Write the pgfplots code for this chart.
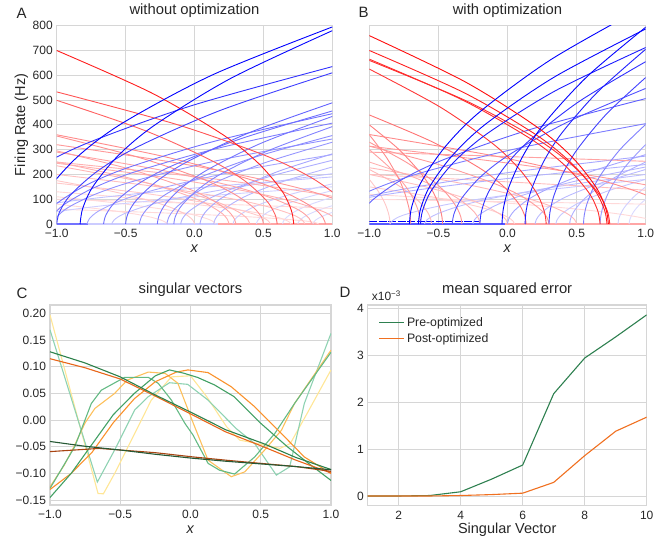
\documentclass[border=0pt]{standalone}
\usepackage{fontspec}
\setmainfont{Liberation Sans}
\usepackage{pgfplots}
\pgfplotsset{compat=1.18}

\definecolor{gridc}{RGB}{214,214,214}
\definecolor{txt}{RGB}{38,38,38}
\definecolor{g1}{RGB}{38,88,52}
\definecolor{g2}{RGB}{44,128,74}
\definecolor{g3}{RGB}{66,160,100}
\definecolor{g4}{RGB}{100,186,132}
\definecolor{g5}{RGB}{142,210,178}
\definecolor{o1}{RGB}{168,68,18}
\definecolor{o2}{RGB}{232,102,26}
\definecolor{o3}{RGB}{250,146,44}
\definecolor{o4}{RGB}{253,192,92}
\definecolor{o5}{RGB}{255,230,150}
\definecolor{pre}{RGB}{46,128,80}
\definecolor{post}{RGB}{240,112,32}

\pgfplotsset{
  base/.style={
    scale only axis, clip=true,
    axis line style={draw=gridc, line width=1.1pt},
    grid=major, major grid style={draw=gridc, line width=0.9pt},
    major tick length=0pt, tick style={draw=none},
    xticklabel style={font=\fontsize{12}{14}\selectfont, text=txt, anchor=base, yshift=-13.6pt, inner sep=0pt},
    yticklabel style={font=\fontsize{12}{14}\selectfont, text=txt, anchor=east, xshift=-3.8pt, inner sep=0pt},
    title style={font=\fontsize{14.8}{16}\selectfont, text=txt, at={(0.5,1)}, anchor=base, yshift=5.5pt, inner sep=0pt},
    xlabel style={font=\fontsize{14.5}{16}\selectfont, text=txt, at={(axis description cs:0.5,0)}, anchor=base, yshift=-28pt, inner sep=0pt},
    ylabel style={font=\fontsize{14.5}{16}\selectfont, text=txt, inner sep=0pt},
  },
  bl/.style={blue!#1!white, line width=0.9pt, smooth, mark=none},
  rd/.style={red!#1!white, line width=0.9pt, smooth, mark=none},
  sv/.style={#1, line width=1.1pt, mark=none},
}

\begin{document}
\begin{tikzpicture}
\useasboundingbox (0pt,0pt) rectangle (669pt,539pt);

% ---------------- A ----------------
\begin{axis}[base, at={(56.7pt,315pt)}, anchor=south west, width=275.6pt, height=198.3pt,
  xmin=-1, xmax=1, ymin=0, ymax=800,
  xtick={-1,-0.5,0,0.5,1}, xticklabels={−1.0,−0.5,0.0,0.5,1.0},
  ytick={0,100,...,800}, yticklabels={0,100,200,300,400,500,600,700,800},
  title={without optimization}, xlabel={\textit{x}},
  ylabel={Firing Rate (Hz)}, ylabel style={at={(axis description cs:-0.128,0.5)}, anchor=center},
]
\addplot[blue!55!white, line width=3pt] coordinates {(-1,0) (-0.77,0)};
\addplot[blue!20!white, line width=2pt] coordinates {(-0.77,0) (0.17,0)};
\addplot[red!35!white, line width=3pt] coordinates {(0.17,0) (1,0)};
\addplot[bl=15] coordinates {(0.75,0) (0.7525,6) (0.7625,14) (0.7875,26) (0.825,38) (0.9,56) (1,74)};
\addplot[bl=15] coordinates {(0.86,0) (0.8614,4) (0.867,9) (0.881,17) (0.902,24) (0.944,35) (1,47)};
\addplot[bl=15] coordinates {(0.64,0) (0.6436,9) (0.658,21) (0.694,38) (0.748,56) (0.856,82) (1,108)};
\addplot[rd=16] coordinates {(0.7,0) (0.683,10) (0.615,25) (0.445,46) (0.19,67) (-0.32,98) (-1,130)};
\addplot[rd=15] coordinates {(2.5,0) (2.465,8) (2.325,19) (1.975,35) (1.45,52) (0.4,76) (-1,100)};
\addplot[rd=15] coordinates {(0.15,0) (0.1385,9) (0.0925,21) (-0.0225,39) (-0.195,57) (-0.54,83) (-1,110)};
\addplot[rd=15] coordinates {(-0.2,0) (-0.208,6) (-0.24,15) (-0.32,28) (-0.44,41) (-0.68,60) (-1,80)};
\addplot[rd=15] coordinates {(0.9,0) (0.881,5) (0.805,12) (0.615,21) (0.33,31) (-0.24,45) (-1,60)};
\addplot[bl=17] coordinates {(0.45,0) (0.4555,11) (0.4775,26) (0.5325,48) (0.615,70) (0.78,102) (1,135)};
\addplot[bl=19] coordinates {(-1.3,0) (-1.277,12) (-1.185,29) (-0.955,53) (-0.61,77) (0.08,113) (1,150)};
\addplot[bl=20] coordinates {(0.28,0) (0.2872,13) (0.316,31) (0.388,57) (0.496,84) (0.712,122) (1,162)};
\addplot[rd=21] coordinates {(0.55,0) (0.5345,13) (0.4725,32) (0.3175,58) (0.085,85) (-0.38,125) (-1,165)};
\addplot[rd=22] coordinates {(0,0) (-0.01,14) (-0.05,34) (-0.15,62) (-0.3,90) (-0.6,132) (-1,175)};
\addplot[bl=24] coordinates {(-1.6,0) (-1.574,15) (-1.47,36) (-1.21,67) (-0.82,98) (-0.04,143) (1,190)};
\addplot[bl=25] coordinates {(-0.6,0) (-0.584,16) (-0.52,39) (-0.36,71) (-0.12,105) (0.36,153) (1,203)};
\addplot[rd=25] coordinates {(0.8,0) (0.782,16) (0.71,38) (0.53,70) (0.26,103) (-0.28,151) (-1,200)};
\addplot[bl=29] coordinates {(0.14,0) (0.1486,18) (0.183,44) (0.269,81) (0.398,119) (0.656,174) (1,230)};
\addplot[rd=29] coordinates {(0.4,0) (0.386,19) (0.33,45) (0.19,83) (-0.02,121) (-0.44,177) (-1,235)};
\addplot[rd=31] coordinates {(0.25,0) (0.2375,20) (0.1875,48) (0.0625,88) (-0.125,129) (-0.5,189) (-1,250)};
\addplot[rd=31] coordinates {(1.05,0) (1.0295,19) (0.9475,47) (0.7425,86) (0.435,126) (-0.18,185) (-1,245)};
\addplot[rd=31] coordinates {(1.6,0) (1.574,20) (1.47,48) (1.21,88) (0.82,129) (0.04,189) (-1,250)};
\addplot[bl=32] coordinates {(-0.1,0) (-0.089,20) (-0.045,49) (0.065,90) (0.23,133) (0.56,194) (1,257)};
\addplot[bl=35] coordinates {(0.04,0) (0.0496,22) (0.088,54) (0.184,100) (0.328,146) (0.616,214) (1,283)};
\addplot[bl=35] coordinates {(-0.78,0) (-0.762,22) (-0.691,54) (-0.513,99) (-0.246,144) (0.288,211) (1,280)};
\addplot[rd=36] coordinates {(0.85,0) (0.8315,23) (0.7575,56) (0.5725,102) (0.295,150) (-0.26,219) (-1,290)};
\addplot[rd=37] coordinates {(0.3,0) (0.287,23) (0.235,57) (0.105,104) (-0.09,152) (-0.48,223) (-1,295)};
\addplot[rd=40] coordinates {(1.3,0) (1.277,25) (1.185,61) (0.955,113) (0.61,165) (-0.08,242) (-1,320)};
\addplot[bl=41] coordinates {(-0.2,0) (-0.188,26) (-0.14,63) (-0.02,116) (0.16,170) (0.52,249) (1,330)};
\addplot[bl=43] coordinates {(-1.02,0) (-0.9998,27) (-0.919,66) (-0.717,121) (-0.414,177) (0.192,259) (1,343)};
\addplot[rd=44] coordinates {(0.5,0) (0.485,28) (0.425,68) (0.275,125) (0.05,183) (-0.4,268) (-1,355)};
\addplot[rd=45] coordinates {(0.95,0) (0.9305,28) (0.8525,69) (0.6575,127) (0.365,186) (-0.22,272) (-1,360)};
\addplot[bl=45] coordinates {(-0.4,0) (-0.386,28) (-0.33,69) (-0.19,126) (0.02,184) (0.44,270) (1,357)};
\addplot[bl=49] coordinates {(-0.15,0) (-0.1385,31) (-0.0925,75) (0.0225,138) (0.195,203) (0.54,297) (1,393)};
\addplot[bl=51] coordinates {(-1.05,0) (-1.0295,32) (-0.9475,78) (-0.7425,143) (-0.435,210) (0.18,307) (1,407)};
\addplot[bl=54] coordinates {(-0.27,0) (-0.257,34) (-0.207,83) (-0.079,153) (0.111,224) (0.492,328) (1,434)};
\addplot[bl=56] coordinates {(-1.1,0) (-1.079,35) (-0.995,85) (-0.785,157) (-0.47,230) (0.16,336) (1,445)};
\addplot[bl=57] coordinates {(-0.66,0) (-0.643,36) (-0.577,88) (-0.411,161) (-0.162,235) (0.336,344) (1,456)};
\addplot[bl=61] coordinates {(-0.5,0) (-0.485,39) (-0.425,94) (-0.275,172) (-0.05,252) (0.4,369) (1,489)};
\addplot[rd=62] coordinates {(0.6,0) (0.584,39) (0.52,96) (0.36,176) (0.12,257) (-0.36,377) (-1,499)};
\addplot[rd=67] coordinates {(1.17,0) (1.1483,42) (1.0615,102) (0.8445,188) (0.519,275) (-0.132,402) (-1,533)};
\addplot[bl=76] coordinates {(-1,0) (-0.98,48) (-0.9,117) (-0.7,215) (-0.4,315) (0.2,461) (1,610)};
\addplot[bl=80] coordinates {(-1.53,0) (-1.505,50) (-1.404,122) (-1.151,224) (-0.771,328) (-0.012,479) (1,635)};
\addplot[rd=88] coordinates {(0.72,0) (0.7028,55) (0.634,134) (0.462,246) (0.204,361) (-0.312,529) (-1,700)};
\addplot[bl=98] coordinates {(-0.83,0) (-0.8117,62) (-0.7385,150) (-0.5555,275) (-0.281,402) (0.268,589) (1,780)};
\addplot[bl=100] coordinates {(-1.15,0) (-1.1285,63) (-1.0425,154) (-0.8275,282) (-0.505,413) (0.14,604) (1,795)};
\end{axis}

% ---------------- B ----------------
\begin{axis}[base, at={(369.3pt,315pt)}, anchor=south west, width=276.4pt, height=198.3pt,
  xmin=-1, xmax=1, ymin=0, ymax=800,
  xtick={-1,-0.5,0,0.5,1}, xticklabels={−1.0,−0.5,0.0,0.5,1.0},
  ytick={0,100,...,800}, yticklabels={},
  title={with optimization}, xlabel={\textit{x}},
]
\addplot[blue!65!white, line width=3pt] coordinates {(-1,0) (-0.02,0)};
\addplot[red!35!white, line width=3pt] coordinates {(-0.02,0) (1,0)};
\addplot[blue, line width=1pt, dash pattern=on 8pt off 1.5pt] coordinates {(-1,12) (-0.2,12)};
\addplot[bl=15] coordinates {(0.88,0) (0.8812,8) (0.886,19) (0.898,35) (0.916,52) (0.952,76) (1,100)};
\addplot[rd=15] coordinates {(1.1,0) (1.079,9) (0.995,23) (0.785,42) (0.47,62) (-0.16,91) (-1,120)};
\addplot[rd=15] coordinates {(-1,100) (0,90) (1,80)};
\addplot[bl=19] coordinates {(0.8,0) (0.802,12) (0.81,29) (0.83,53) (0.86,77) (0.92,113) (1,150)};
\addplot[rd=19] coordinates {(0.05,0) (0.0395,12) (-0.0025,29) (-0.1075,53) (-0.265,77) (-0.58,113) (-1,150)};
\addplot[bl=22] coordinates {(-0.85,0) (-0.8315,14) (-0.7575,35) (-0.5725,63) (-0.295,93) (0.26,136) (1,180)};
\addplot[bl=22] coordinates {(0.35,0) (0.3565,14) (0.3825,35) (0.4475,63) (0.545,93) (0.74,136) (1,180)};
\addplot[rd=22] coordinates {(-0.85,0) (-0.8515,14) (-0.8575,35) (-0.8725,63) (-0.895,93) (-0.94,136) (-1,180)};
\addplot[bl=25] coordinates {(-0.6,0) (-0.584,16) (-0.52,38) (-0.36,70) (-0.12,103) (0.36,151) (1,200)};
\addplot[rd=25] coordinates {(3,0) (2.96,16) (2.8,38) (2.4,70) (1.8,103) (0.6,151) (-1,200)};
\addplot[rd=25] coordinates {(0,0) (-0.01,16) (-0.05,38) (-0.15,70) (-0.3,103) (-0.6,151) (-1,200)};
\addplot[bl=27] coordinates {(0.2,0) (0.208,17) (0.24,42) (0.32,77) (0.44,114) (0.68,166) (1,220)};
\addplot[rd=27] coordinates {(-0.55,0) (-0.5545,17) (-0.5725,42) (-0.6175,77) (-0.685,114) (-0.82,166) (-1,220)};
\addplot[rd=28] coordinates {(0.5,0) (0.485,18) (0.425,44) (0.275,80) (0.05,117) (-0.4,171) (-1,227)};
\addplot[bl=29] coordinates {(-0.25,0) (-0.2375,18) (-0.1875,44) (-0.0625,81) (0.125,119) (0.5,174) (1,230)};
\addplot[bl=30] coordinates {(-1.6,0) (-1.574,19) (-1.47,46) (-1.21,84) (-0.82,124) (-0.04,181) (1,240)};
\addplot[bl=31] coordinates {(0.45,0) (0.4555,20) (0.4775,48) (0.5325,88) (0.615,129) (0.78,189) (1,250)};
\addplot[rd=31] coordinates {(-0.2,0) (-0.208,20) (-0.24,48) (-0.32,88) (-0.44,129) (-0.68,189) (-1,250)};
\addplot[bl=34] coordinates {(-1.5,0) (-1.475,22) (-1.375,53) (-1.125,96) (-0.75,141) (0,207) (1,274)};
\addplot[bl=35] coordinates {(0,0) (0.01,22) (0.05,54) (0.15,99) (0.3,144) (0.6,211) (1,280)};
\addplot[rd=36] coordinates {(-1,290) (0,272) (1,253)};
\addplot[rd=37] coordinates {(-0.63,0) (-0.6337,24) (-0.6485,58) (-0.6855,106) (-0.741,155) (-0.852,227) (-1,300)};
\addplot[rd=39] coordinates {(0.3,0) (0.287,25) (0.235,60) (0.105,111) (-0.09,162) (-0.48,237) (-1,314)};
\addplot[rd=39] coordinates {(1.8,0) (1.772,25) (1.66,60) (1.38,111) (0.96,162) (0.12,237) (-1,314)};
\addplot[bl=40] coordinates {(0.67,0) (0.6733,25) (0.6865,62) (0.7195,113) (0.769,166) (0.868,242) (1,321)};
\addplot[rd=41] coordinates {(-0.33,0) (-0.3367,26) (-0.3635,63) (-0.4305,116) (-0.531,170) (-0.732,249) (-1,330)};
\addplot[rd=45] coordinates {(-0.7,0) (-0.703,28) (-0.715,69) (-0.745,127) (-0.79,186) (-0.88,272) (-1,360)};
\addplot[rd=45] coordinates {(1.3,0) (1.277,29) (1.185,69) (0.955,127) (0.61,186) (-0.08,273) (-1,361)};
\addplot[bl=50] coordinates {(0.55,0) (0.5545,32) (0.5725,77) (0.6175,142) (0.685,207) (0.82,304) (1,402)};
\addplot[rd=50] coordinates {(-0.47,0) (-0.4753,32) (-0.4965,77) (-0.5495,141) (-0.629,206) (-0.788,302) (-1,400)};
\addplot[bl=51] coordinates {(-1.3,0) (-1.277,32) (-1.185,78) (-0.955,143) (-0.61,209) (0.08,306) (1,405)};
\addplot[rd=55] coordinates {(0.135,0) (0.1237,35) (0.0783,84) (-0.0353,155) (-0.2055,227) (-0.546,332) (-1,440)};
\addplot[bl=63] coordinates {(-1.08,0) (-1.0592,40) (-0.976,97) (-0.768,178) (-0.456,261) (0.168,382) (1,506)};
\addplot[bl=68] coordinates {(-0.4,0) (-0.386,43) (-0.33,105) (-0.19,193) (0.02,282) (0.44,413) (1,547)};
\addplot[bl=74] coordinates {(0.3,0) (0.307,47) (0.335,113) (0.405,208) (0.51,305) (0.72,446) (1,591)};
\addplot[rd=78] coordinates {(0.28,0) (0.2672,49) (0.216,120) (0.088,220) (-0.104,323) (-0.488,472) (-1,625)};
\addplot[bl=82] coordinates {(-0.2,0) (-0.188,52) (-0.14,126) (-0.02,231) (0.16,338) (0.52,495) (1,655)};
\addplot[rd=82] coordinates {(0.74,0) (0.7226,52) (0.653,127) (0.479,232) (0.218,341) (-0.304,498) (-1,660)};
\addplot[rd=83] coordinates {(0.67,0) (0.6533,53) (0.5865,128) (0.4195,234) (0.169,343) (-0.332,502) (-1,665)};
\addplot[bl=88] coordinates {(0.127,0) (0.1357,56) (0.1707,135) (0.258,248) (0.389,364) (0.651,532) (1,705)};
\addplot[rd=88] coordinates {(0.72,0) (0.7028,55) (0.634,134) (0.462,246) (0.204,361) (-0.312,529) (-1,700)};
\addplot[bl=89] coordinates {(-0.63,0) (-0.6137,56) (-0.5485,137) (-0.3855,251) (-0.141,367) (0.348,538) (1,712)};
\addplot[rd=95] coordinates {(0.73,0) (0.7127,60) (0.6435,146) (0.4705,268) (0.211,392) (-0.308,574) (-1,760)};
\addplot[bl=98] coordinates {(-0.645,0) (-0.6286,62) (-0.5628,151) (-0.3983,277) (-0.1515,406) (0.342,594) (1,787)};
\addplot[bl=99] coordinates {(-0.04,0) (-0.0296,63) (0.012,152) (0.116,279) (0.272,410) (0.584,599) (1,794)};
\addplot[bl=100] coordinates {(-0.71,0) (-0.6929,70) (-0.6245,169) (-0.4535,310) (-0.197,454) (0.316,664) (1,880)};
\end{axis}

% ---------------- C ----------------
\begin{axis}[base, at={(50pt,34pt)}, anchor=south west, width=281pt, height=200pt,
  xmin=-1, xmax=1, ymin=-0.159, ymax=0.2156,
  xtick={-1,-0.5,0,0.5,1}, xticklabels={−1.0,−0.5,0.0,0.5,1.0},
  ytick={-0.15,-0.1,-0.05,0,0.05,0.1,0.15,0.2},
  yticklabels={−0.15,−0.10,−0.05,0.00,0.05,0.10,0.15,0.20},
  title={singular vectors}, xlabel={\textit{x}},
]
\addplot[sv=o5] coordinates {(-1,0.197) (-0.658,-0.1375) (-0.62,-0.138) (-0.54,-0.1) (-0.397,-0.025) (-0.279,0.0375) (-0.136,0.081) (0.0,0.083) (0.115,0.044) (0.257,-0.0125) (0.35,-0.0375) (0.54,-0.047) (0.637,-0.053) (0.71,-0.044) (0.83,0.0125) (1,0.094)};
\addplot[sv=g5] coordinates {(-1,0.169) (-0.663,-0.116) (-0.54,-0.056) (-0.397,0.019) (-0.30,0.044) (-0.15,0.07) (-0.02,0.067) (0.125,0.0375) (0.219,0.0125) (0.326,-0.016) (0.457,-0.044) (0.611,-0.103) (0.706,-0.0875) (0.81,0.031) (1,0.1625)};
\addplot[sv=o4] coordinates {(-1,-0.125) (-0.9,-0.085) (-0.83,-0.05) (-0.75,-0.005) (-0.68,0.022) (-0.54,0.05) (-0.45,0.075) (-0.3,0.09) (-0.18,0.0875) (-0.09,0.069) (0.02,-0.006) (0.125,-0.075) (0.29,-0.106) (0.386,-0.097) (0.528,-0.056) (0.647,-0.019) (0.74,0.031) (1,0.131)};
\addplot[sv=g4] coordinates {(-1,-0.128) (-0.824,-0.05) (-0.706,0.031) (-0.635,0.056) (-0.469,0.08) (-0.30,0.08) (-0.23,0.069) (-0.136,0.0375) (-0.04,-0.006) (0.018,-0.028) (0.125,-0.081) (0.208,-0.094) (0.314,-0.101) (0.457,-0.069) (0.6,-0.025) (0.74,0.031) (1,0.127)};
\addplot[sv=o3] coordinates {(-1,-0.13) (-0.85,-0.1) (-0.7,-0.06) (-0.55,-0.005) (-0.4,0.04) (-0.25,0.072) (-0.1,0.09) (-0.018,0.094) (0.125,0.089) (0.29,0.0625) (0.457,0.025) (0.647,-0.025) (0.81,-0.069) (1,-0.1)};
\addplot[sv=g3] coordinates {(-1,-0.145) (-0.85,-0.1) (-0.7,-0.045) (-0.55,0.01) (-0.4,0.05) (-0.25,0.083) (-0.15,0.094) (-0.05,0.088) (0.05,0.08) (0.17,0.066) (0.31,0.044) (0.5,-0.006) (0.69,-0.05) (0.84,-0.081) (1,-0.113)};
\addplot[sv=o2] coordinates {(-1,0.115) (-0.75,0.098) (-0.5,0.077) (-0.25,0.045) (0.02,0.009) (0.25,-0.022) (0.52,-0.05) (0.75,-0.075) (1,-0.099)};
\addplot[sv=g2] coordinates {(-1,0.128) (-0.75,0.107) (-0.5,0.081) (-0.25,0.047) (0.02,0.0125) (0.25,-0.018) (0.52,-0.044) (0.75,-0.07) (1,-0.0925)};
\addplot[sv=o1] coordinates {(-1,-0.059) (-0.65,-0.053) (-0.5,-0.056) (-0.25,-0.061) (0.02,-0.069) (0.25,-0.075) (0.5,-0.081) (0.75,-0.087) (1,-0.096)};
\addplot[sv=g1] coordinates {(-1,-0.04) (-0.75,-0.049) (-0.5,-0.056) (-0.25,-0.064) (0,-0.071) (0.25,-0.077) (0.5,-0.082) (0.75,-0.087) (1,-0.093)};
\end{axis}

% ---------------- D ----------------
\begin{axis}[base, at={(367.7pt,33.3pt)}, anchor=south west, width=279pt, height=200.7pt,
  xmin=1, xmax=10, ymin=-0.207, ymax=4.07,
  xtick={2,4,6,8,10}, xticklabels={2,4,6,8,10},
  ytick={0,1,2,3,4}, yticklabels={0,1,2,3,4},
  title={mean squared error}, xlabel={Singular Vector},
  legend cell align=left,
  legend style={draw=none, fill=none, at={(0,1)}, anchor=north west, xshift=8pt, yshift=-8pt,
    font=\fontsize{12.3}{14}\selectfont, text=txt, row sep=1.5pt},
  legend image code/.code={\draw[#1] (0pt,0pt) -- (25pt,0pt);},
]
\addplot[pre, line width=1.1pt, mark=none] coordinates {(1,0) (2,0) (3,0.01) (4,0.09) (5,0.36) (6,0.66) (7,2.18) (8,2.94) (9,3.39) (10,3.86)};
\addlegendentry{Pre-optimized}
\addplot[post, line width=1.1pt, mark=none] coordinates {(1,0) (2,0) (3,0) (4,0.01) (5,0.03) (6,0.06) (7,0.29) (8,0.86) (9,1.38) (10,1.68)};
\addlegendentry{Post-optimized}
\end{axis}

\node[anchor=base west, font=\fontsize{12}{14}\selectfont, text=txt] at (368.3pt,238.3pt) {x10\textsuperscript{−3}};
\node[anchor=base west, font=\fontsize{15}{17}\selectfont, text=txt] at (13pt,520.7pt) {A};
\node[anchor=base west, font=\fontsize{15}{17}\selectfont, text=txt] at (355pt,521pt) {B};
\node[anchor=base west, font=\fontsize{15}{17}\selectfont, text=txt] at (13pt,240.7pt) {C};
\node[anchor=base west, font=\fontsize{15}{17}\selectfont, text=txt] at (336pt,241.7pt) {D};
\end{tikzpicture}
\end{document}
